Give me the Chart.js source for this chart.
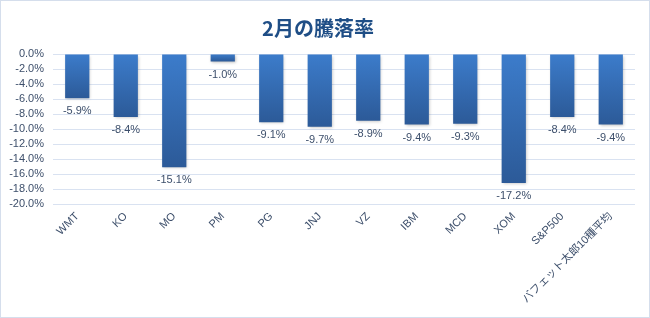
<!DOCTYPE html>
<html>
<head>
<meta charset="utf-8">
<script src="https://cdn.jsdelivr.net/npm/chart.js@4"></script>
<style>
  body { margin: 0; background: #fff; }
  #wrap { width: 648px; height: 316px; border: 1px solid #D5DEEC; position: relative; }
</style>
</head>
<body>
<div id="wrap"><canvas id="chartCanvas"></canvas></div>
<script>
const tickers = ["WMT", "KO", "MO", "PM", "PG", "JNJ", "VZ", "IBM", "MCD", "XOM", "S&P500", "バフェット太郎10種平均"];
const changes = [-5.9, -8.4, -15.1, -1.0, -9.1, -9.7, -8.9, -9.4, -9.3, -17.2, -8.4, -9.4];
const yMin = -20;
const yMax = 0;
const yStep = 2;

const textColor = "#3D4F6B";
const baseFont = "'Liberation Sans', 'Noto Sans CJK JP', sans-serif";

// Excel style gradient, lighter at the top of each bar
function barGradient(c) {
    const chart = c.chart;
    if (!chart.chartArea || c.dataIndex === undefined) return "#3472C0";
    const y = chart.scales.y;
    const top = y.getPixelForValue(0);
    const bottom = y.getPixelForValue(changes[c.dataIndex]);
    if (bottom - top < 1) return "#3472C0";
    const g = chart.ctx.createLinearGradient(0, top, 0, bottom);
    g.addColorStop(0, "#3C7CCB");
    g.addColorStop(1, "#2C5A98");
    return g;
}

// draw value labels under the end of each bar
const valueLabels = {
    id: "valueLabels",
    afterDatasetsDraw(chart) {
        const ctx = chart.ctx;
        const meta = chart.getDatasetMeta(0);
        ctx.save();
        ctx.font = "11px " + baseFont;
        ctx.fillStyle = textColor;
        ctx.textAlign = "center";
        ctx.textBaseline = "middle";
        meta.data.forEach((bar, i) => {
            ctx.fillText(changes[i].toFixed(1) + "%", bar.x, bar.y + 13);
        });
        ctx.restore();
    }
};

// soft shadow like the original
const barShadow = {
    id: "barShadow",
    beforeDatasetDraw(chart) {
        const ctx = chart.ctx;
        ctx.save();
        ctx.shadowColor = "rgba(0,0,0,0.25)";
        ctx.shadowBlur = 3;
        ctx.shadowOffsetX = 1;
        ctx.shadowOffsetY = 1;
    },
    afterDatasetDraw(chart) {
        chart.ctx.restore();
    }
};

const ctx = document.getElementById("chartCanvas").getContext("2d");
const chart = new Chart(ctx, {
    type: "bar",
    data: {
        labels: tickers,
        datasets: [{
            data: changes,
            backgroundColor: barGradient,
            borderWidth: 0,
            categoryPercentage: 1,
            barPercentage: 0.5
        }]
    },
    options: {
        responsive: true,
        maintainAspectRatio: false,
        animation: false,
        layout: { padding: { left: 0, right: 14, top: 0, bottom: 0 } },
        plugins: {
            legend: { display: false },
            tooltip: { enabled: false },
            title: {
                display: true,
                text: "2月の騰落率",
                color: "#1F4E86",
                font: { family: "'Noto Sans CJK JP', sans-serif", size: 20, weight: "bold" },
                padding: { top: 15, bottom: 14 }
            }
        },
        scales: {
            x: {
                grid: { display: false, drawTicks: false },
                border: { display: false },
                ticks: {
                    color: textColor,
                    font: { family: baseFont, size: 11 },
                    autoSkip: false,
                    minRotation: 45,
                    maxRotation: 45,
                    padding: 6
                },
                afterFit: s => { s.height = 113; }
            },
            y: {
                min: yMin,
                max: yMax,
                grid: { color: "#D9E2F1", drawTicks: false },
                border: { display: false },
                ticks: {
                    stepSize: yStep,
                    autoSkip: false,
                    color: textColor,
                    font: { family: baseFont, size: 11 },
                    padding: 9,
                    callback: v => (Math.abs(v) < 1e-9 ? 0 : v).toFixed(1) + "%"
                },
                afterFit: s => { s.width = 52; }
            }
        }
    },
    plugins: [barShadow, valueLabels]
});
</script>
</body>
</html>
